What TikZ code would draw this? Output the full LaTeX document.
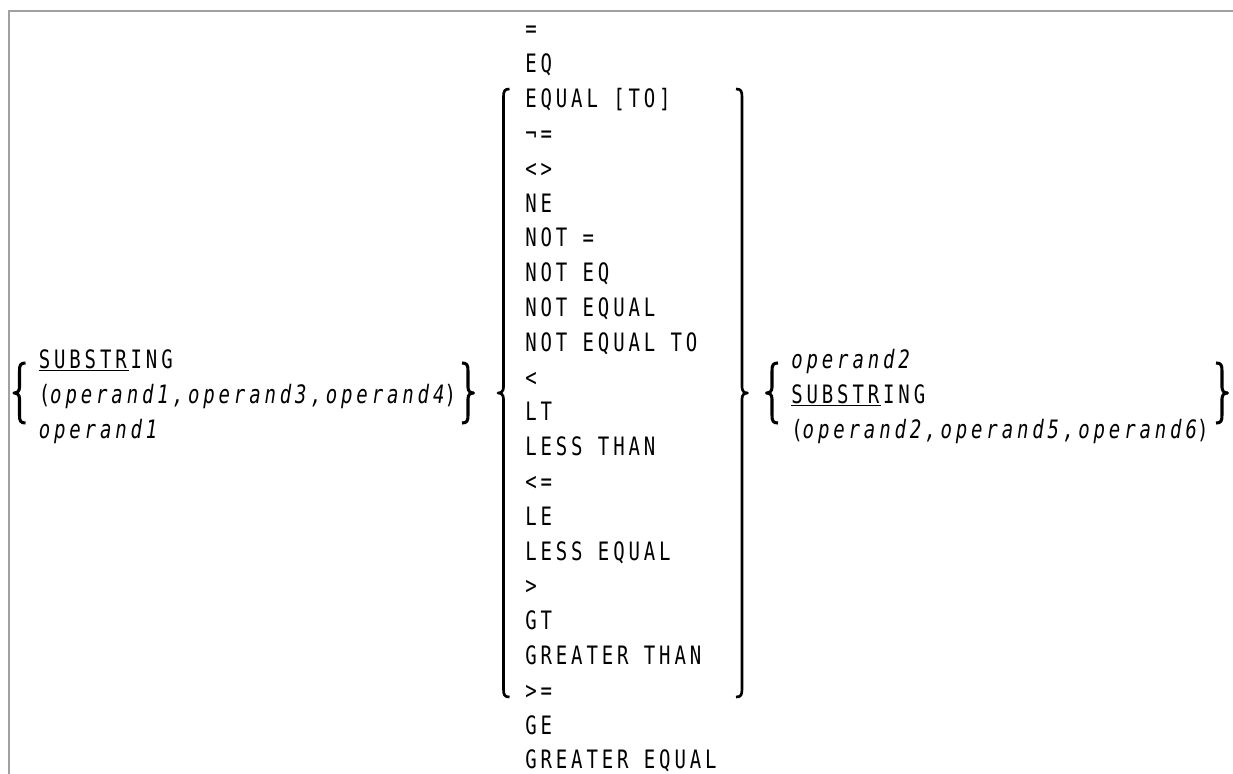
\documentclass[tikz,border=0pt]{standalone}
\usepackage{fontspec}
\newfontfamily\mono[FakeStretch=0.75,LetterSpace=15.3]{DejaVu Sans Mono}
\definecolor{framecol}{RGB}{160,160,160}
% right brace "}" : stem x, top y, bottom y, middle y
\newcommand\rbr[5][]{\draw[brace,#1] (#2-6,#3) .. controls (#2-1,#3) and (#2,#3+2) .. (#2,#3+8) -- (#2,#5-6) .. controls (#2,#5-2) and (#2+2,#5) .. (#2+5.5,#5) .. controls (#2+2,#5) and (#2,#5+2) .. (#2,#5+6) -- (#2,#4-8) .. controls (#2,#4-2) and (#2-1,#4) .. (#2-6,#4);}
% left brace "{"
\newcommand\lbr[5][]{\draw[brace,#1] (#2+6,#3) .. controls (#2+1,#3) and (#2,#3+2) .. (#2,#3+8) -- (#2,#5-6) .. controls (#2,#5-2) and (#2-2,#5) .. (#2-5.5,#5) .. controls (#2-2,#5) and (#2,#5+2) .. (#2,#5+6) -- (#2,#4-8) .. controls (#2,#4-2) and (#2+1,#4) .. (#2+6,#4);}
\begin{document}
\begin{tikzpicture}[x=0.75pt,y=-0.75pt]
\tikzset{
  txt/.style={anchor=base west,inner sep=0pt,font=\mono\fontsize{19}{22}\selectfont},
  brace/.style={line width=2pt,line join=round},
  small/.style={line width=2.3pt},
  ul/.style={line width=1pt}
}
\useasboundingbox (0,0) rectangle (1233,774);
\draw[framecol,line width=1.2pt] (8.8,774) -- (8.8,10.8) -- (1233,10.8);
% middle column
\foreach \t [count=\i from 0] in {=,EQ,{EQUAL [TO]},¬=,<>,NE,{NOT =},{NOT EQ},{NOT EQUAL},{NOT EQUAL TO},<,LT,{LESS THAN},<=,LE,{LESS EQUAL},>,GT,{GREATER THAN},>=,GE,{GREATER EQUAL}}
  \node[txt] (m\i) at (525,38+34.8*\i) {\t};
% left group
\node[txt] (l1) at (38.5,368.6) {SUBSTRING};
\node[txt] (l2) at (38.5,403.4) {({\itshape operand1,operand3,operand4})};
\node[txt] (l3) at (38.5,438.2) {\itshape operand1};
\draw[ul] ([yshift=-1.6pt]l1.base west) -- ++(90,0);
% right group
\node[txt] (r1) at (791,368.6) {\itshape operand2};
\node[txt] (r2) at (791,403.4) {SUBSTRING};
\node[txt] (r3) at (791,438.2) {({\itshape operand2,operand5,operand6})};
\draw[ul] ([yshift=-1.6pt]r2.base west) -- ++(90,0);
% braces
\lbr[small]{19.5}{363}{423}{393}
\rbr[small]{468}{363}{423}{393}
\lbr{503.5}{89}{697}{393}
\rbr{742}{89}{697}{393}
\lbr[small]{772}{363}{423}{393}
\rbr[small]{1222}{363}{423}{393}
\end{tikzpicture}
\end{document}
